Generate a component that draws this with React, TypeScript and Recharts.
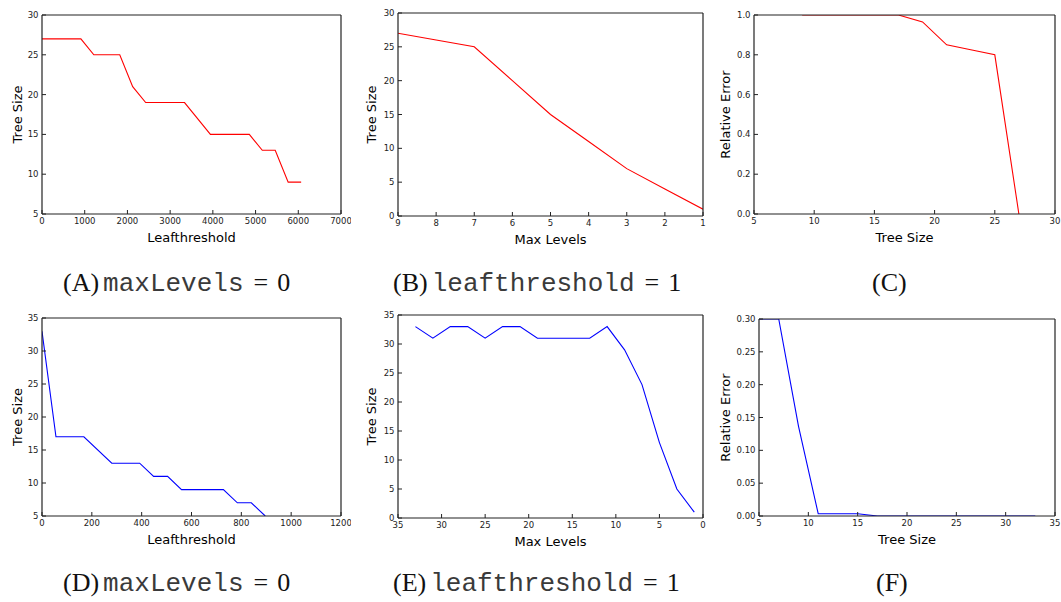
import React from 'react';
import { LineChart, Line, XAxis, YAxis } from 'recharts';

// (A) maxLevels = 0
const aLeafthreshold = [0, 910, 1213, 1820, 2123, 2427, 3337, 3943, 4853, 5157, 5460, 5763, 6067];
const aTreeSize = [27, 27, 25, 25, 21, 19, 19, 15, 15, 13, 13, 9, 9];
const aXTicks = [0, 1000, 2000, 3000, 4000, 5000, 6000, 7000];
const aYTicks = [5, 10, 15, 20, 25, 30];

// (B) leafthreshold = 1
const bMaxLevels = [9, 8, 7, 6, 5, 4, 3, 2, 1];
const bTreeSize = [27, 26, 25, 20, 15, 11, 7, 4, 1];
const bXTicks = [1, 2, 3, 4, 5, 6, 7, 8, 9];
const bYTicks = [0, 5, 10, 15, 20, 25, 30];

// (C)
const cTreeSize = [9, 11, 13, 15, 17, 19, 21, 23, 25, 27];
const cRelErr = [1, 1, 1, 1, 1, 0.965, 0.85, 0.825, 0.8, 0];
const cXTicks = [5, 10, 15, 20, 25, 30];
const cYTicks = [0, 0.2, 0.4, 0.6, 0.8, 1.0];

// (D) maxLevels = 0
const dLeafthreshold = [0, 56, 168, 280, 392, 448, 504, 560, 728, 784, 840, 896];
const dTreeSize = [33, 17, 17, 13, 13, 11, 11, 9, 9, 7, 7, 5];
const dXTicks = [0, 200, 400, 600, 800, 1000, 1200];
const dYTicks = [5, 10, 15, 20, 25, 30, 35];

// (E) leafthreshold = 1
const eMaxLevels = [33, 31, 29, 27, 25, 23, 21, 19, 17, 15, 13, 11, 9, 7, 5, 3, 1];
const eTreeSize = [33, 31, 33, 33, 31, 33, 33, 31, 31, 31, 31, 33, 29, 23, 13, 5, 1];
const eXTicks = [0, 5, 10, 15, 20, 25, 30, 35];
const eYTicks = [0, 5, 10, 15, 20, 25, 30, 35];

// (F)
const fTreeSize = [5, 7, 9, 11, 13, 15, 17, 19, 21, 23, 25, 27, 29, 31, 33];
const fRelErr = [0.3, 0.3, 0.137, 0.0035, 0.0035, 0.0035, 0, 0, 0, 0, 0, 0, 0, 0, 0];
const fXTicks = [5, 10, 15, 20, 25, 30, 35];
const fYTicks = [0, 0.05, 0.1, 0.15, 0.2, 0.25, 0.3];

const zip = (xs: number[], ys: number[]) => xs.map((x, i) => ({ x, y: ys[i] }));

const TICK_FONT = { fontSize: 8.5, fill: '#222', fontFamily: 'DejaVu Sans' };
const FRAME = { stroke: '#222', strokeWidth: 1.2 };

type PanelProps = {
  box: { x: number; y: number; w: number; h: number };
  plot: { l: number; t: number; r: number; b: number };
  data: { x: number; y: number }[];
  xDomain: [number, number];
  xTicks: number[];
  yDomain: [number, number];
  yTicks: number[];
  xReversed?: boolean;
  xLabel: string;
  yLabel: string;
  yLabelOff: number;
  color: string;
  yFmt?: (v: number) => string;
};

function Panel(p: PanelProps) {
  const W = p.box.w;
  const H = p.box.h;
  const pl = p.plot.l - p.box.x;
  const pt = p.plot.t - p.box.y;
  const pr = p.plot.r - p.box.x;
  const pb = p.plot.b - p.box.y;
  const topH = 1;
  const rightW = 1;
  const leftW = 40;
  const bottomH = 32;
  const margin = {
    top: pt - topH,
    left: pl - leftW,
    right: W - pr - rightW,
    bottom: H - pb - bottomH,
  };
  const xl = (pl + pr) / 2;
  const yl = (pt + pb) / 2;
  const ylx = pl - p.yLabelOff;
  return (
    <div
      style={{
        position: 'absolute',
        left: p.box.x,
        top: p.box.y,
        width: W,
        height: H,
        overflow: 'hidden',
      }}
    >
      <LineChart width={W} height={H} data={p.data} margin={margin}>
        <XAxis
          xAxisId="b"
          dataKey="x"
          type="number"
          domain={p.xDomain}
          ticks={p.xTicks}
          interval={0}
          allowDataOverflow
          reversed={p.xReversed}
          height={bottomH}
          tickSize={-4}
          tickMargin={8}
          tick={TICK_FONT}
          axisLine={FRAME}
          tickLine={{ stroke: '#222', strokeWidth: 1 }}
          label={() => (
            <text
              x={xl}
              y={pb + 23}
              textAnchor="middle"
              dominantBaseline="central"
              fontFamily="DejaVu Sans"
              fontSize={13}
              fill="#000"
            >
              {p.xLabel}
            </text>
          )}
        />
        <XAxis
          xAxisId="t"
          orientation="top"
          dataKey="x"
          type="number"
          domain={p.xDomain}
          ticks={p.xTicks}
          interval={0}
          allowDataOverflow
          reversed={p.xReversed}
          height={topH}
          tickSize={-4}
          tick={false}
          axisLine={FRAME}
          tickLine={{ stroke: '#222', strokeWidth: 1 }}
        />
        <YAxis
          yAxisId="l"
          type="number"
          domain={p.yDomain}
          ticks={p.yTicks}
          interval={0}
          allowDataOverflow
          width={leftW}
          tickSize={-4}
          tickMargin={7.5}
          tick={TICK_FONT}
          tickFormatter={p.yFmt}
          axisLine={FRAME}
          tickLine={{ stroke: '#222', strokeWidth: 1 }}
          label={() => (
            <text
              x={ylx}
              y={yl}
              textAnchor="middle"
              dominantBaseline="central"
              fontFamily="DejaVu Sans"
              fontSize={13}
              fill="#000"
              transform={`rotate(-90, ${ylx}, ${yl})`}
            >
              {p.yLabel}
            </text>
          )}
        />
        <YAxis
          yAxisId="r"
          orientation="right"
          type="number"
          domain={p.yDomain}
          ticks={p.yTicks}
          interval={0}
          allowDataOverflow
          width={rightW}
          tickSize={-4}
          tick={false}
          axisLine={FRAME}
          tickLine={{ stroke: '#222', strokeWidth: 1 }}
        />
        <Line
          xAxisId="b"
          yAxisId="l"
          type="linear"
          dataKey="y"
          stroke={p.color}
          strokeWidth={1.1}
          dot={false}
          isAnimationActive={false}
        />
      </LineChart>
    </div>
  );
}

const SERIF = 'Liberation Serif';
const MONO = 'Liberation Mono';

function Caption({ x, y, tag, code, value }: { x: number; y: number; tag: string; code?: string; value?: string }) {
  return (
    <text x={x} y={y} fontSize={26}>
      <tspan fontFamily={SERIF} fill="#111">{tag}</tspan>
      {code ? (
        <>
          <tspan fontFamily={MONO} dx={4} fill="#3a3a3a">{code}</tspan>
          <tspan fontFamily={SERIF} dx={10} fill="#111">=</tspan>
          <tspan fontFamily={SERIF} dx={9} fill="#111">{value}</tspan>
        </>
      ) : null}
    </text>
  );
}

const fmt1 = (v: number) => v.toFixed(1);
const fmt2 = (v: number) => v.toFixed(2);

export default function App() {
  return (
    <div style={{ position: 'absolute', left: 0, top: 0, width: 1061, height: 602, background: '#fff' }}>
      <Panel
        box={{ x: 0, y: 0, w: 351, h: 250 }}
        plot={{ l: 42, t: 15, r: 341, b: 214 }}
        data={zip(aLeafthreshold, aTreeSize)}
        xDomain={[0, 7000]}
        xTicks={aXTicks}
        yDomain={[5, 30]}
        yTicks={aYTicks}
        xLabel="Leafthreshold"
        yLabel="Tree Size"
        yLabelOff={25}
        color="#ff0000"
      />
      <Panel
        box={{ x: 351, y: 0, w: 361, h: 250 }}
        plot={{ l: 398, t: 13, r: 703, b: 216 }}
        data={zip(bMaxLevels, bTreeSize)}
        xDomain={[1, 9]}
        xTicks={bXTicks}
        xReversed
        yDomain={[0, 30]}
        yTicks={bYTicks}
        xLabel="Max Levels"
        yLabel="Tree Size"
        yLabelOff={27}
        color="#ff0000"
      />
      <Panel
        box={{ x: 712, y: 0, w: 349, h: 250 }}
        plot={{ l: 754, t: 15, r: 1055, b: 214 }}
        data={zip(cTreeSize, cRelErr)}
        xDomain={[5, 30]}
        xTicks={cXTicks}
        yDomain={[0, 1]}
        yTicks={cYTicks}
        yFmt={fmt1}
        xLabel="Tree Size"
        yLabel="Relative Error"
        yLabelOff={29}
        color="#ff0000"
      />
      <Panel
        box={{ x: 0, y: 300, w: 351, h: 255 }}
        plot={{ l: 42, t: 318, r: 341, b: 516 }}
        data={zip(dLeafthreshold, dTreeSize)}
        xDomain={[0, 1200]}
        xTicks={dXTicks}
        yDomain={[5, 35]}
        yTicks={dYTicks}
        xLabel="Leafthreshold"
        yLabel="Tree Size"
        yLabelOff={25}
        color="#0000ff"
      />
      <Panel
        box={{ x: 351, y: 300, w: 361, h: 255 }}
        plot={{ l: 398, t: 315, r: 703, b: 518 }}
        data={zip(eMaxLevels, eTreeSize)}
        xDomain={[0, 35]}
        xTicks={eXTicks}
        xReversed
        yDomain={[0, 35]}
        yTicks={eYTicks}
        xLabel="Max Levels"
        yLabel="Tree Size"
        yLabelOff={27}
        color="#0000ff"
      />
      <Panel
        box={{ x: 712, y: 300, w: 349, h: 255 }}
        plot={{ l: 759, t: 319, r: 1055, b: 516 }}
        data={zip(fTreeSize, fRelErr)}
        xDomain={[5, 35]}
        xTicks={fXTicks}
        yDomain={[0, 0.3]}
        yTicks={fYTicks}
        yFmt={fmt2}
        xLabel="Tree Size"
        yLabel="Relative Error"
        yLabelOff={34}
        color="#0000ff"
      />
      <svg
        width={1061}
        height={602}
        style={{ position: 'absolute', left: 0, top: 0, pointerEvents: 'none' }}
      >
        <Caption x={63} y={291} tag="(A)" code="maxLevels" value="0" />
        <Caption x={393} y={291} tag="(B)" code="leafthreshold" value="1" />
        <Caption x={872} y={291} tag="(C)" />
        <Caption x={63} y={591} tag="(D)" code="maxLevels" value="0" />
        <Caption x={393} y={591} tag="(E)" code="leafthreshold" value="1" />
        <Caption x={876} y={591} tag="(F)" />
      </svg>
    </div>
  );
}
